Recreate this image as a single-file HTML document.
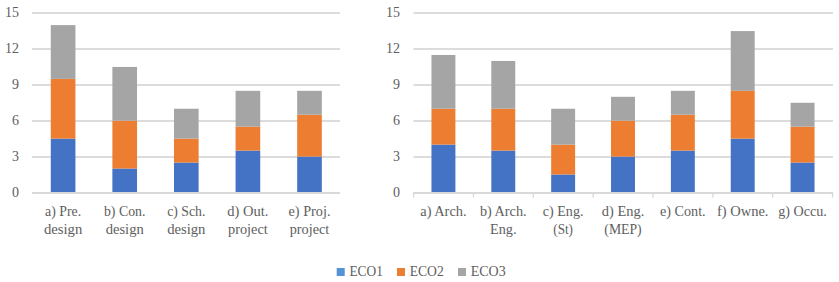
<!DOCTYPE html>
<html><head><meta charset="utf-8"><style>
html,body{margin:0;padding:0;background:#fff;width:839px;height:282px;overflow:hidden}
svg{display:block}
text{font-family:"Liberation Serif",serif;fill:#5E5E5E}
</style></head><body>
<svg width="839" height="282" viewBox="0 0 839 282">
<rect x="32" y="192" width="308" height="2" fill="#D9D9D9"/>
<text x="19.10" y="197.30" text-anchor="end" font-size="14">0</text>
<rect x="32" y="156" width="308" height="2" fill="#DCDCDC"/>
<text x="19.10" y="161.30" text-anchor="end" font-size="14">3</text>
<rect x="32" y="120" width="308" height="2" fill="#DCDCDC"/>
<text x="19.10" y="125.30" text-anchor="end" font-size="14">6</text>
<rect x="32" y="84" width="308" height="2" fill="#DCDCDC"/>
<text x="19.10" y="89.30" text-anchor="end" font-size="14">9</text>
<rect x="32" y="48" width="308" height="2" fill="#DCDCDC"/>
<text x="19.10" y="53.30" text-anchor="end" font-size="14">12</text>
<rect x="32" y="12" width="308" height="2" fill="#DCDCDC"/>
<text x="19.10" y="17.30" text-anchor="end" font-size="14">15</text>
<rect x="50.78" y="138.62" width="24.64" height="53.38" fill="#4472C4"/>
<rect x="50.78" y="78.88" width="24.64" height="59.75" fill="#ED7D31"/>
<rect x="50.78" y="25.10" width="24.64" height="53.77" fill="#A5A5A5"/>
<text x="63.10" y="216.20" text-anchor="middle" font-size="14" textLength="36" lengthAdjust="spacingAndGlyphs">a) Pre.</text>
<text x="63.10" y="234.00" text-anchor="middle" font-size="14" textLength="38.4" lengthAdjust="spacingAndGlyphs">design</text>
<rect x="112.38" y="168.50" width="24.64" height="23.50" fill="#4472C4"/>
<rect x="112.38" y="120.70" width="24.64" height="47.80" fill="#ED7D31"/>
<rect x="112.38" y="66.93" width="24.64" height="53.77" fill="#A5A5A5"/>
<text x="124.70" y="216.20" text-anchor="middle" font-size="14" textLength="41.5" lengthAdjust="spacingAndGlyphs">b) Con.</text>
<text x="124.70" y="234.00" text-anchor="middle" font-size="14" textLength="38" lengthAdjust="spacingAndGlyphs">design</text>
<rect x="173.98" y="162.53" width="24.64" height="29.47" fill="#4472C4"/>
<rect x="173.98" y="138.62" width="24.64" height="23.90" fill="#ED7D31"/>
<rect x="173.98" y="108.75" width="24.64" height="29.88" fill="#A5A5A5"/>
<text x="186.30" y="216.20" text-anchor="middle" font-size="14" textLength="38.2" lengthAdjust="spacingAndGlyphs">c) Sch.</text>
<text x="186.30" y="234.00" text-anchor="middle" font-size="14" textLength="38.3" lengthAdjust="spacingAndGlyphs">design</text>
<rect x="235.58" y="150.58" width="24.64" height="41.42" fill="#4472C4"/>
<rect x="235.58" y="126.68" width="24.64" height="23.90" fill="#ED7D31"/>
<rect x="235.58" y="90.83" width="24.64" height="35.85" fill="#A5A5A5"/>
<text x="247.90" y="216.20" text-anchor="middle" font-size="14" textLength="41.1" lengthAdjust="spacingAndGlyphs">d) Out.</text>
<text x="247.90" y="234.00" text-anchor="middle" font-size="14" textLength="39.7" lengthAdjust="spacingAndGlyphs">project</text>
<rect x="297.18" y="156.55" width="24.64" height="35.45" fill="#4472C4"/>
<rect x="297.18" y="114.73" width="24.64" height="41.82" fill="#ED7D31"/>
<rect x="297.18" y="90.83" width="24.64" height="23.90" fill="#A5A5A5"/>
<text x="309.50" y="216.20" text-anchor="middle" font-size="14" textLength="42" lengthAdjust="spacingAndGlyphs">e) Proj.</text>
<text x="309.50" y="234.00" text-anchor="middle" font-size="14" textLength="39.5" lengthAdjust="spacingAndGlyphs">project</text>
<rect x="413" y="192" width="420" height="2" fill="#D9D9D9"/>
<text x="400.10" y="197.30" text-anchor="end" font-size="14">0</text>
<rect x="413.5" y="156" width="419.5" height="2" fill="#DCDCDC"/>
<text x="400.10" y="161.30" text-anchor="end" font-size="14">3</text>
<rect x="413.5" y="120" width="419.5" height="2" fill="#DCDCDC"/>
<text x="400.10" y="125.30" text-anchor="end" font-size="14">6</text>
<rect x="413.5" y="84" width="419.5" height="2" fill="#DCDCDC"/>
<text x="400.10" y="89.30" text-anchor="end" font-size="14">9</text>
<rect x="413.5" y="48" width="419.5" height="2" fill="#DCDCDC"/>
<text x="400.10" y="53.30" text-anchor="end" font-size="14">12</text>
<rect x="413.5" y="12" width="419.5" height="2" fill="#DCDCDC"/>
<text x="400.10" y="17.30" text-anchor="end" font-size="14">15</text>
<rect x="412.90" y="192" width="1.4" height="5.5" fill="#D9D9D9"/>
<rect x="472.76" y="192" width="1.4" height="5.5" fill="#D9D9D9"/>
<rect x="532.61" y="192" width="1.4" height="5.5" fill="#D9D9D9"/>
<rect x="592.47" y="192" width="1.4" height="5.5" fill="#D9D9D9"/>
<rect x="652.33" y="192" width="1.4" height="5.5" fill="#D9D9D9"/>
<rect x="712.19" y="192" width="1.4" height="5.5" fill="#D9D9D9"/>
<rect x="772.04" y="192" width="1.4" height="5.5" fill="#D9D9D9"/>
<rect x="831.90" y="192" width="1.4" height="5.5" fill="#D9D9D9"/>
<rect x="431.46" y="144.60" width="23.94" height="47.40" fill="#4472C4"/>
<rect x="431.46" y="108.75" width="23.94" height="35.85" fill="#ED7D31"/>
<rect x="431.46" y="54.98" width="23.94" height="53.77" fill="#A5A5A5"/>
<text x="443.43" y="216.20" text-anchor="middle" font-size="14" textLength="46.3" lengthAdjust="spacingAndGlyphs">a) Arch.</text>
<rect x="491.31" y="150.58" width="23.94" height="41.42" fill="#4472C4"/>
<rect x="491.31" y="108.75" width="23.94" height="41.82" fill="#ED7D31"/>
<rect x="491.31" y="60.95" width="23.94" height="47.80" fill="#A5A5A5"/>
<text x="503.29" y="216.20" text-anchor="middle" font-size="14" textLength="46.6" lengthAdjust="spacingAndGlyphs">b) Arch.</text>
<text x="503.29" y="234.00" text-anchor="middle" font-size="14" textLength="26.4" lengthAdjust="spacingAndGlyphs">Eng.</text>
<rect x="551.17" y="174.48" width="23.94" height="17.52" fill="#4472C4"/>
<rect x="551.17" y="144.60" width="23.94" height="29.88" fill="#ED7D31"/>
<rect x="551.17" y="108.75" width="23.94" height="35.85" fill="#A5A5A5"/>
<text x="563.14" y="216.20" text-anchor="middle" font-size="14" textLength="40.6" lengthAdjust="spacingAndGlyphs">c) Eng.</text>
<text x="563.14" y="234.00" text-anchor="middle" font-size="14" textLength="19.7" lengthAdjust="spacingAndGlyphs">(St)</text>
<rect x="611.03" y="156.55" width="23.94" height="35.45" fill="#4472C4"/>
<rect x="611.03" y="120.70" width="23.94" height="35.85" fill="#ED7D31"/>
<rect x="611.03" y="96.80" width="23.94" height="23.90" fill="#A5A5A5"/>
<text x="623.00" y="216.20" text-anchor="middle" font-size="14" textLength="42.5" lengthAdjust="spacingAndGlyphs">d) Eng.</text>
<text x="623.00" y="234.00" text-anchor="middle" font-size="14" textLength="37.3" lengthAdjust="spacingAndGlyphs">(MEP)</text>
<rect x="670.89" y="150.58" width="23.94" height="41.42" fill="#4472C4"/>
<rect x="670.89" y="114.73" width="23.94" height="35.85" fill="#ED7D31"/>
<rect x="670.89" y="90.83" width="23.94" height="23.90" fill="#A5A5A5"/>
<text x="682.86" y="216.20" text-anchor="middle" font-size="14" textLength="45.6" lengthAdjust="spacingAndGlyphs">e) Cont.</text>
<rect x="730.74" y="138.62" width="23.94" height="53.38" fill="#4472C4"/>
<rect x="730.74" y="90.83" width="23.94" height="47.80" fill="#ED7D31"/>
<rect x="730.74" y="31.08" width="23.94" height="59.75" fill="#A5A5A5"/>
<text x="742.71" y="216.20" text-anchor="middle" font-size="14" textLength="51.5" lengthAdjust="spacingAndGlyphs">f) Owne.</text>
<rect x="790.60" y="162.53" width="23.94" height="29.47" fill="#4472C4"/>
<rect x="790.60" y="126.68" width="23.94" height="35.85" fill="#ED7D31"/>
<rect x="790.60" y="102.78" width="23.94" height="23.90" fill="#A5A5A5"/>
<text x="802.57" y="216.20" text-anchor="middle" font-size="14" textLength="48.5" lengthAdjust="spacingAndGlyphs">g) Occu.</text>
<rect x="336.70" y="268.00" width="8.00" height="8.00" fill="#5592D6"/>
<text x="349.40" y="276.00" text-anchor="start" font-size="14" textLength="33.5" lengthAdjust="spacingAndGlyphs">ECO1</text>
<rect x="397.00" y="268.00" width="8.00" height="8.00" fill="#ED7D31"/>
<text x="409.70" y="276.00" text-anchor="start" font-size="14" textLength="34" lengthAdjust="spacingAndGlyphs">ECO2</text>
<rect x="458.00" y="268.00" width="8.00" height="8.00" fill="#A5A5A5"/>
<text x="470.70" y="276.00" text-anchor="start" font-size="14" textLength="35" lengthAdjust="spacingAndGlyphs">ECO3</text>
</svg>
</body></html>
